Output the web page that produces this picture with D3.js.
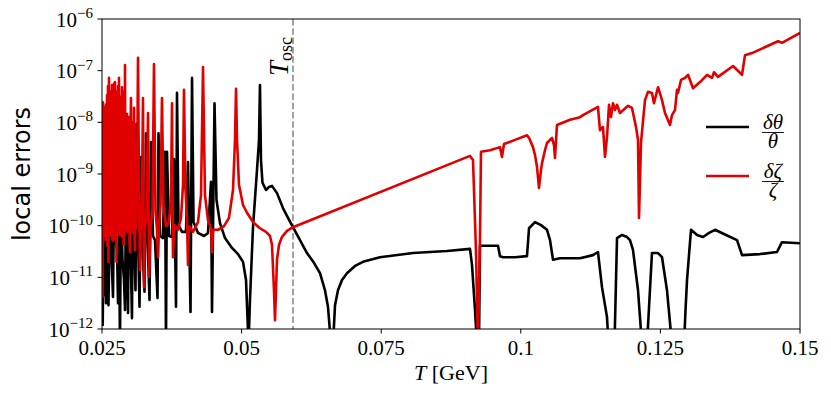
<!DOCTYPE html>
<html>
<head>
<meta charset="utf-8">
<script src="https://cdn.jsdelivr.net/npm/d3@7"></script>
<style>
  body { margin: 0; background: #fff; }
  svg { display: block; }
</style>
</head>
<body>
<svg id="chart"></svg>
<script>
// tick values
const xTicks = [0.025, 0.05, 0.075, 0.1, 0.125, 0.15];
const yTickExps = [-12, -11, -10, -9, -8, -7, -6];
const Tosc = 0.0592;

// local error of theta: [T in GeV, log10(error)]
const thetaErr = [
  [0.02500, -10.47], [0.02513, -11.92], [0.02527, -10.08], [0.02536, -11.34], [0.02554, -9.79],
  [0.02572, -11.50], [0.02590, -9.79], [0.02616, -11.54], [0.02643, -9.60], [0.02661, -10.28],
  [0.02697, -11.38], [0.02715, -9.50], [0.02742, -10.28], [0.02769, -10.47], [0.02787, -11.50],
  [0.02804, -10.08], [0.02822, -12.3], [0.02840, -9.50], [0.02867, -10.66], [0.02894, -11.05],
  [0.02912, -11.63], [0.02930, -9.31], [0.02948, -10.66], [0.02966, -11.69], [0.02984, -8.19],
  [0.03001, -10.28], [0.03019, -10.86], [0.03037, -11.79], [0.03055, -8.40], [0.03073, -10.18],
  [0.03100, -11.25], [0.03118, -8.03], [0.03145, -10.18], [0.03172, -11.57], [0.03198, -8.67],
  [0.03216, -10.18], [0.03261, -11.28], [0.03288, -8.21], [0.03315, -10.24], [0.03351, -11.44],
  [0.03377, -8.38], [0.03413, -10.20], [0.03449, -10.28], [0.03494, -11.40], [0.03512, -8.21],
  [0.03539, -10.20], [0.03592, -10.24], [0.03628, -8.57], [0.03646, -12.3], [0.03664, -8.57],
  [0.03700, -10.20], [0.03754, -10.22], [0.03789, -8.71], [0.03825, -11.57], [0.03843, -7.43],
  [0.03870, -9.99], [0.03933, -10.12], [0.04004, -10.12], [0.04040, -8.77], [0.04085, -11.67],
  [0.04112, -7.14], [0.04139, -9.93], [0.04219, -10.14], [0.04327, -10.20], [0.04398, -10.14],
  [0.04452, -9.15], [0.04470, -11.67], [0.04515, -7.63], [0.04550, -9.50], [0.04613, -9.95],
  [0.04703, -10.24], [0.04828, -10.43], [0.04935, -10.55], [0.05025, -10.70], [0.05079, -11.05],
  [0.05124, -12.3], [0.05150, -11.44], [0.05204, -10.03], [0.05276, -8.92], [0.05312, -8.34],
  [0.05329, -7.28], [0.05347, -8.73], [0.05374, -9.17], [0.05437, -9.31], [0.05490, -9.25],
  [0.05544, -9.23], [0.05634, -9.37], [0.05741, -9.66], [0.05831, -9.85], [0.05920, -10.03],
  [0.06046, -10.28], [0.06171, -10.53], [0.06296, -10.72], [0.06404, -10.92], [0.06493, -11.25],
  [0.06547, -11.57], [0.06601, -12.3], [0.06637, -12.3], [0.06673, -11.54], [0.06726, -11.25],
  [0.06798, -11.05], [0.06887, -10.92], [0.07031, -10.78], [0.07174, -10.70], [0.07478, -10.61],
  [0.08069, -10.53], [0.08678, -10.49], [0.09090, -10.45], [0.09126, -10.76], [0.09180, -11.63],
  [0.09215, -12.3], [0.09251, -12.3], [0.09269, -10.39], [0.09448, -10.39], [0.09592, -10.39],
  [0.09627, -10.59], [0.09681, -10.61], [0.09896, -10.61], [0.10111, -10.59], [0.10147, -10.05],
  [0.10254, -9.93], [0.10362, -9.99], [0.10469, -10.08], [0.10523, -10.28], [0.10577, -10.66],
  [0.10702, -10.63], [0.11060, -10.63], [0.11293, -10.57], [0.11382, -10.51], [0.11454, -11.19],
  [0.11544, -11.77], [0.11571, -12.3], [0.11678, -12.3], [0.11723, -10.24], [0.11812, -10.18],
  [0.11902, -10.22], [0.11955, -10.28], [0.12009, -10.47], [0.12099, -11.25], [0.12170, -12.3],
  [0.12260, -12.3], [0.12349, -10.53], [0.12457, -10.53], [0.12529, -10.61], [0.12618, -11.25],
  [0.12708, -12.3], [0.12923, -12.3], [0.12950, -11.63], [0.12977, -11.05], [0.13048, -10.08],
  [0.13156, -10.18], [0.13263, -10.22], [0.13371, -10.14], [0.13478, -10.08], [0.13675, -10.18],
  [0.13872, -10.28], [0.13962, -10.57], [0.14283, -10.55], [0.14588, -10.51], [0.14677, -10.32],
  [0.15000, -10.34]
];

// local error of zeta: [T in GeV, log10(error)]
const zetaErr = [
  [0.02500, -9.12], [0.02504, -7.90], [0.02509, -11.38], [0.02514, -7.75], [0.02518, -7.61],
  [0.02527, -10.18], [0.02536, -7.80], [0.02545, -10.20], [0.02554, -7.70], [0.02563, -10.28],
  [0.02572, -7.65], [0.02581, -10.20], [0.02590, -7.47], [0.02599, -10.40], [0.02607, -7.30],
  [0.02616, -10.70], [0.02625, -7.14], [0.02634, -10.18], [0.02643, -7.40], [0.02652, -10.18],
  [0.02661, -7.60], [0.02670, -10.20], [0.02679, -7.28], [0.02688, -10.28], [0.02697, -7.50],
  [0.02706, -10.28], [0.02715, -7.25], [0.02724, -10.24], [0.02733, -7.22], [0.02742, -10.24],
  [0.02751, -7.40], [0.02760, -10.70], [0.02769, -7.60], [0.02778, -10.08], [0.02787, -7.30],
  [0.02795, -10.10], [0.02804, -7.14], [0.02813, -10.18], [0.02822, -7.50], [0.02831, -10.18],
  [0.02840, -7.70], [0.02849, -10.20], [0.02858, -7.32], [0.02867, -10.18], [0.02876, -7.80],
  [0.02885, -10.37], [0.02894, -7.40], [0.02903, -10.20], [0.02912, -6.89], [0.02921, -10.05],
  [0.02930, -7.90], [0.02939, -10.10], [0.02948, -7.84], [0.02957, -10.12], [0.02966, -8.00],
  [0.02975, -10.12], [0.02984, -7.90], [0.02993, -10.30], [0.03001, -10.51], [0.03010, -8.20],
  [0.03019, -7.53], [0.03028, -10.08], [0.03037, -8.10], [0.03046, -10.08], [0.03055, -8.00],
  [0.03064, -10.15], [0.03073, -7.72], [0.03082, -10.20], [0.03091, -10.47], [0.03100, -8.40],
  [0.03109, -10.05], [0.03127, -9.31], [0.03145, -6.75], [0.03163, -9.31], [0.03180, -10.86],
  [0.03198, -10.05], [0.03216, -9.50], [0.03234, -7.53], [0.03252, -11.19], [0.03270, -10.05],
  [0.03297, -9.79], [0.03324, -7.82], [0.03342, -10.99], [0.03369, -10.05], [0.03404, -9.70],
  [0.03431, -6.87], [0.03458, -9.70], [0.03485, -10.08], [0.03503, -10.61], [0.03521, -10.01],
  [0.03548, -9.60], [0.03574, -7.53], [0.03601, -9.60], [0.03646, -10.01], [0.03700, -9.93],
  [0.03736, -9.41], [0.03754, -7.63], [0.03771, -10.61], [0.03798, -9.99], [0.03861, -10.08],
  [0.03915, -9.85], [0.03951, -9.21], [0.03968, -7.37], [0.03995, -9.31], [0.04022, -9.85],
  [0.04040, -10.76], [0.04058, -10.01], [0.04130, -10.12], [0.04219, -9.93], [0.04273, -9.41],
  [0.04309, -6.93], [0.04344, -9.41], [0.04398, -9.89], [0.04452, -10.05], [0.04470, -10.51],
  [0.04488, -10.08], [0.04577, -10.08], [0.04685, -10.01], [0.04774, -9.85], [0.04846, -9.31],
  [0.04882, -8.34], [0.04900, -7.35], [0.04918, -8.34], [0.04953, -9.21], [0.05025, -9.60],
  [0.05097, -9.75], [0.05204, -9.93], [0.05329, -10.05], [0.05437, -10.12], [0.05509, -10.20],
  [0.05544, -10.37], [0.05580, -11.25], [0.05598, -11.83], [0.05616, -11.25], [0.05634, -10.66],
  [0.05670, -10.37], [0.05723, -10.22], [0.05813, -10.10], [0.05920, -10.03], [0.09090, -8.65],
  [0.09144, -8.73], [0.09197, -10.47], [0.09233, -12.3], [0.09269, -10.28], [0.09287, -8.57],
  [0.09448, -8.54], [0.09627, -8.48], [0.09663, -8.67], [0.09699, -8.42], [0.09896, -8.34],
  [0.10111, -8.25], [0.10147, -8.30], [0.10218, -8.48], [0.10254, -8.63], [0.10290, -8.86],
  [0.10326, -9.27], [0.10362, -8.92], [0.10380, -8.79], [0.10433, -8.54], [0.10469, -8.40],
  [0.10559, -8.30], [0.10595, -8.44], [0.10612, -8.69], [0.10648, -8.05], [0.10881, -7.95],
  [0.11060, -7.90], [0.11114, -7.86], [0.11382, -7.70], [0.11418, -8.15], [0.11472, -8.09],
  [0.11508, -8.67], [0.11544, -8.28], [0.11580, -7.66], [0.11615, -7.90], [0.11651, -7.63],
  [0.11687, -7.76], [0.11723, -7.66], [0.11776, -7.82], [0.11920, -7.68], [0.11991, -7.72],
  [0.12063, -8.09], [0.12099, -8.34], [0.12117, -9.85], [0.12135, -9.12], [0.12152, -8.40],
  [0.12224, -7.57], [0.12278, -7.41], [0.12349, -7.43], [0.12385, -7.63], [0.12457, -7.32],
  [0.12529, -7.57], [0.12582, -7.82], [0.12672, -8.05], [0.12708, -7.86], [0.12762, -7.76],
  [0.12797, -7.37], [0.12815, -7.43], [0.12869, -7.18], [0.12941, -7.14], [0.12995, -7.08],
  [0.13084, -7.34], [0.13210, -7.22], [0.13335, -7.08], [0.13424, -7.14], [0.13460, -7.03],
  [0.13532, -7.12], [0.13801, -6.91], [0.13962, -7.08], [0.14015, -6.70], [0.14140, -6.66],
  [0.14606, -6.43], [0.14677, -6.46], [0.15000, -6.27]
];

const width = 831;
const height = 393;
const margin = { top: 19, right: 31, bottom: 64, left: 102 };
const innerWidth = width - margin.left - margin.right;
const innerHeight = height - margin.top - margin.bottom;

const svg = d3.select('#chart')
    .attr('width', width)
    .attr('height', height);

const g = svg.append('g')
    .attr('transform', `translate(${margin.left}, ${margin.top})`);

const x = d3.scaleLinear().domain([0.025, 0.15]).range([0, innerWidth]);
const y = d3.scaleLog().domain([1e-12, 1e-6]).range([innerHeight, 0]);

svg.append('defs').append('clipPath')
    .attr('id', 'plot-clip')
    .append('rect')
    .attr('width', innerWidth)
    .attr('height', innerHeight);

const serif = '"Liberation Serif", "DejaVu Serif", serif';

// dashed line at T_osc
g.append('line')
    .attr('x1', x(Tosc)).attr('x2', x(Tosc))
    .attr('y1', 0).attr('y2', innerHeight)
    .attr('stroke', '#999')
    .attr('stroke-width', 1.8)
    .attr('stroke-dasharray', '6.5,2.8');

const line = d3.line()
    .x(d => x(d[0]))
    .y(d => y(Math.pow(10, d[1])));

const plot = g.append('g').attr('clip-path', 'url(#plot-clip)');

plot.append('path')
    .datum(thetaErr)
    .attr('d', line)
    .attr('fill', 'none')
    .attr('stroke', '#000')
    .attr('stroke-width', 2.6)
    .attr('stroke-linejoin', 'round');

plot.append('path')
    .datum(zetaErr)
    .attr('d', line)
    .attr('fill', 'none')
    .attr('stroke', '#e00000')
    .attr('stroke-width', 2.6)
    .attr('stroke-linejoin', 'round');

// frame
g.append('rect')
    .attr('x', 0).attr('y', 0)
    .attr('width', innerWidth).attr('height', innerHeight)
    .attr('fill', 'none')
    .attr('stroke', '#000')
    .attr('stroke-width', 1);

// x ticks
const xt = g.append('g').attr('transform', `translate(0, ${innerHeight})`);
xt.selectAll('line')
    .data(xTicks)
    .enter()
    .append('line')
    .attr('x1', d => x(d)).attr('x2', d => x(d))
    .attr('y1', 0).attr('y2', 4.5)
    .attr('stroke', '#000');
xt.selectAll('text')
    .data(xTicks)
    .enter()
    .append('text')
    .attr('x', d => x(d))
    .attr('y', 26)
    .attr('text-anchor', 'middle')
    .attr('font-family', serif)
    .attr('font-size', 21)
    .text(d => String(d));

// y ticks
const yt = g.append('g');
yt.selectAll('line')
    .data(yTickExps)
    .enter()
    .append('line')
    .attr('x1', -4.5).attr('x2', 0)
    .attr('y1', d => y(Math.pow(10, d))).attr('y2', d => y(Math.pow(10, d)))
    .attr('stroke', '#000');
const ylab = yt.selectAll('text')
    .data(yTickExps)
    .enter()
    .append('text')
    .attr('x', -9)
    .attr('y', d => y(Math.pow(10, d)) + 7.5)
    .attr('text-anchor', 'end')
    .attr('font-family', serif)
    .attr('font-size', 21);
ylab.append('tspan').text('10');
ylab.append('tspan')
    .attr('font-size', 15)
    .attr('dy', -8.5)
    .text(d => '\u2212' + Math.abs(d));

// axis labels
const xl = svg.append('text')
    .attr('x', margin.left + innerWidth / 2)
    .attr('y', 380)
    .attr('text-anchor', 'middle')
    .attr('font-family', serif)
    .attr('font-size', 22);
xl.append('tspan').attr('font-style', 'italic').text('T');
xl.append('tspan').text(' [GeV]');

svg.append('text')
    .attr('transform', `translate(30, ${margin.top + innerHeight / 2}) rotate(-90)`)
    .attr('text-anchor', 'middle')
    .attr('font-family', '"DejaVu Sans", sans-serif')
    .attr('font-size', 24)
    .text('local errors');

// T_osc label
const tl = g.append('text')
    .attr('transform', `translate(${x(Tosc) - 5}, 57) rotate(-90)`)
    .attr('font-family', serif)
    .attr('font-size', 27);
tl.append('tspan').attr('font-style', 'italic').text('T');
tl.append('tspan').attr('font-size', 18).attr('dy', 4).text('osc');

// legend
const legendItems = [
    { color: '#000', num: 'δθ', den: 'θ', y: 108 },
    { color: '#e00000', num: 'δζ', den: 'ζ', y: 157 }
];
const lg = g.selectAll('.legend')
    .data(legendItems)
    .enter()
    .append('g')
    .attr('class', 'legend')
    .attr('transform', d => `translate(604, ${d.y})`);
lg.append('line')
    .attr('x1', 0).attr('x2', 43)
    .attr('stroke', d => d.color)
    .attr('stroke-width', 2.6);
lg.append('text')
    .attr('x', 67).attr('y', 2)
    .attr('text-anchor', 'middle')
    .attr('font-family', serif)
    .attr('font-style', 'italic')
    .attr('font-size', 21)
    .text(d => d.num);
lg.append('line')
    .attr('x1', 56).attr('x2', 78)
    .attr('y1', 5.5).attr('y2', 5.5)
    .attr('stroke', '#000')
    .attr('stroke-width', 0.9);
lg.append('text')
    .attr('x', 67).attr('y', 21)
    .attr('text-anchor', 'middle')
    .attr('font-family', serif)
    .attr('font-style', 'italic')
    .attr('font-size', 21)
    .text(d => d.den);
</script>
</body>
</html>
